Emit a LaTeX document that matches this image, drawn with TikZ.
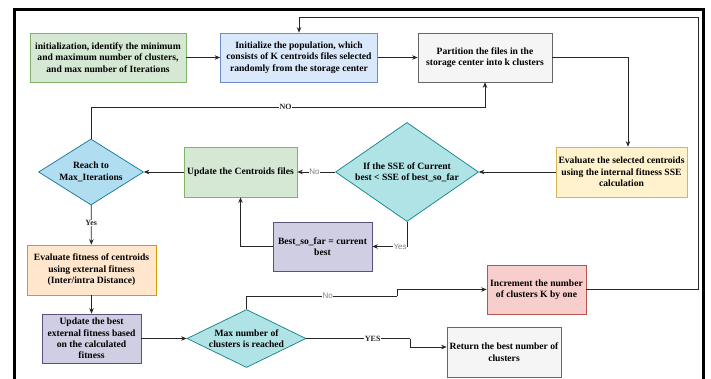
\documentclass[tikz,border=0pt]{standalone}
\usepackage{fontspec}
\setmainfont{Liberation Serif}
\setsansfont{Liberation Sans}
\usepackage{tikz}
\usetikzlibrary{arrows.meta, positioning, shapes.geometric}
\usepackage{xcolor}

\definecolor{grnFill}{HTML}{D5E8D4}\definecolor{grnLine}{HTML}{82B366}
\definecolor{bluFill}{HTML}{DAE8FC}\definecolor{bluLine}{HTML}{6C8EBF}
\definecolor{gryFill}{HTML}{F5F5F5}\definecolor{gryLine}{HTML}{666666}
\definecolor{ylwFill}{HTML}{FFF2CC}\definecolor{ylwLine}{HTML}{D6B656}
\definecolor{tealFill}{HTML}{B0E3E6}\definecolor{tealLine}{HTML}{0E8088}
\definecolor{skyFill}{HTML}{B1DDF0}\definecolor{skyLine}{HTML}{10739E}
\definecolor{purFill}{HTML}{D0CEE2}\definecolor{purLine}{HTML}{56517E}
\definecolor{orgFill}{HTML}{FFE6CC}\definecolor{orgLine}{HTML}{D79B00}
\definecolor{redFill}{HTML}{F8CECC}\definecolor{redLine}{HTML}{B85450}

\begin{document}
\begin{tikzpicture}[
    x=1pt, y=-1pt,
    stepBox/.style={rectangle, draw, line width=0.7pt, align=center, inner sep=1pt,
        font=\bfseries\fontsize{9.6}{11.4}\selectfont},
    decBox/.style={diamond, draw, line width=0.7pt, align=center, inner sep=0pt,
        font=\bfseries\fontsize{9.6}{11.4}\selectfont},
    flowLine/.style={-{Stealth[length=5.5pt,width=4.5pt]}, line width=0.75pt, black!85},
    plainLine/.style={line width=0.75pt, black!85},
    serifLbl/.style={fill=white, inner sep=0.5pt, font=\bfseries\fontsize{8}{9}\selectfont},
    sansLbl/.style={fill=white, inner sep=0.5pt, text=gray, font=\sffamily\fontsize{8}{9}\selectfont}
]
    \useasboundingbox (0,0) rectangle (711,379);
    \clip (0,0) rectangle (711,379);

    % Frame
    \draw[line width=3pt] (14,390) -- (14,10) -- (703,10) -- (703,390);

    % Top row
    \node[stepBox, fill=grnFill, draw=grnLine, minimum width=156pt, minimum height=49pt] (init) at (108,57.5)
        {initialization, identify the minimum\\and maximum number of clusters,\\and max number of Iterations};
    \node[stepBox, fill=bluFill, draw=bluLine, minimum width=157pt, minimum height=49pt] (pop) at (299,57.5)
        {Initialize the population, which\\consists of K centroids files selected\\randomly from the storage center};
    \node[stepBox, fill=gryFill, draw=gryLine, minimum width=134pt, minimum height=49pt] (part) at (485,57.5)
        {Partition the files in the\\storage center into k clusters};

    % Middle row
    \node[stepBox, fill=ylwFill, draw=ylwLine, minimum width=131pt, minimum height=50pt] (evalint) at (621.5,172)
        {Evaluate the selected centroids\\using the internal fitness SSE\\calculation};
    \node[decBox, fill=tealFill, draw=tealLine, aspect=1.44, minimum width=143pt, minimum height=99pt] (ifsse) at (407,172)
        {If the SSE of Current\\best < SSE of best\_so\_far};
    \node[stepBox, fill=grnFill, draw=grnLine, minimum width=113pt, minimum height=50pt] (upd) at (240.5,172)
        {Update the Centroids files};
    \node[decBox, fill=skyFill, draw=skyLine, aspect=1.59, minimum width=105pt, minimum height=66pt] (reach) at (91,172)
        {Reach to\\Max\_Iterations};
    \node[stepBox, fill=purFill, draw=purLine, minimum width=99pt, minimum height=49pt] (bsf) at (322.5,246.5)
        {Best\_so\_far = current\\best};

    % Bottom rows
    \node[stepBox, fill=orgFill, draw=orgLine, minimum width=129pt, minimum height=50pt] (evalext) at (91.5,270)
        {Evaluate fitness of centroids\\using external fitness\\(Inter/intra Distance)};
    \node[stepBox, fill=purFill, draw=purLine, minimum width=99pt, minimum height=49pt] (updext) at (91.5,338.5)
        {Update the best\\external fitness based\\on the calculated\\fitness};
    \node[decBox, fill=tealFill, draw=tealLine, aspect=2.05, minimum width=119pt, minimum height=58pt] (maxd) at (246.5,338.5)
        {Max number of\\clusters is reached};
    \node[stepBox, fill=redFill, draw=redLine, minimum width=99pt, minimum height=49pt] (inc) at (536.5,289.5)
        {Increment the number\\of clusters K by one};
    \node[stepBox, fill=gryFill, draw=gryLine, minimum width=114pt, minimum height=50pt] (ret) at (504,352)
        {Return the best number of\\clusters};

    % Corner points
    \coordinate (noTurn) at (91,107);
    \coordinate (loopTop) at (698,17);
    \coordinate (noJog) at (397,296);
    \coordinate (yesTurn) at (410,338.5);

    % Connectors
    \draw[flowLine] (init) -- (pop);
    \draw[flowLine] (pop) -- (part);
    \draw[flowLine] (part.east) -| ([xshift=6.5pt]evalint.north);
    \draw[flowLine] (evalint) -- (ifsse);
    \draw[flowLine] (ifsse) -- node[sansLbl, pos=0.55]{No} (upd);
    \draw[flowLine] (upd) -- (reach);
    \draw[plainLine] (reach.north) -- (noTurn);
    \draw[flowLine] (noTurn) -| node[serifLbl, pos=0.247]{NO} (part.south);
    \draw[flowLine] (ifsse.south) |- node[sansLbl, pos=0.6]{Yes} (bsf.east);
    \draw[flowLine] (bsf.west) -| (upd.south);
    \draw[flowLine] (reach) -- node[serifLbl, pos=0.45]{Yes} (evalext);
    \draw[flowLine] (evalext) -- (updext);
    \draw[flowLine] (updext) -- (maxd);
    \draw[plainLine] (maxd.north) |- node[sansLbl, pos=0.77]{No} (noJog);
    \draw[flowLine] (noJog) |- (inc.west);
    \draw[plainLine] (maxd.east) -- node[serifLbl, pos=0.64]{YES} (yesTurn);
    \draw[flowLine] (yesTurn) |- ([yshift=5pt]ret.west);
    \draw[plainLine] (inc.east) -| (loopTop);
    \draw[flowLine] (loopTop) -| (pop.north);
\end{tikzpicture}
\end{document}
